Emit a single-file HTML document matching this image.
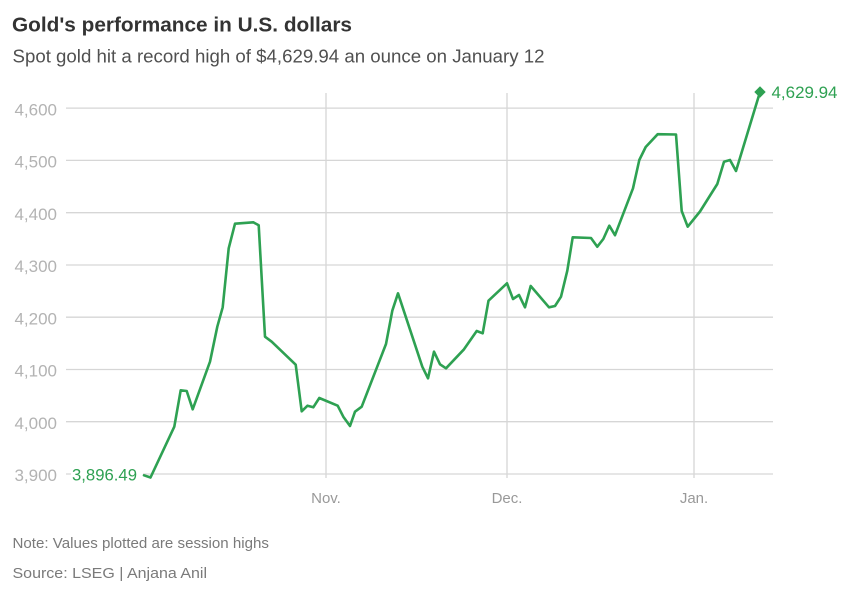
<!DOCTYPE html>
<html>
<head>
<meta charset="utf-8">
<style>
  html, body { margin: 0; padding: 0; background: #ffffff; }
  svg { display: block; }
  text { font-family: "Liberation Sans", Arial, sans-serif; }
</style>
</head>
<body>
<svg width="848" height="590" viewBox="0 0 848 590" xmlns="http://www.w3.org/2000/svg">
  <rect x="0" y="0" width="848" height="590" fill="#ffffff"/>

  <!-- Title / subtitle -->
  <text x="12" y="31.7" font-size="20" font-weight="bold" fill="#333333" textLength="340" lengthAdjust="spacingAndGlyphs">Gold's performance in U.S. dollars</text>
  <text x="12.5" y="62.7" font-size="18" fill="#505050" textLength="532" lengthAdjust="spacingAndGlyphs">Spot gold hit a record high of $4,629.94 an ounce on January 12</text>

  <!-- Horizontal gridlines -->
  <g stroke="#d6d6d6" stroke-width="1.3">
    <line x1="66" y1="108.1" x2="773" y2="108.1"/>
    <line x1="66" y1="160.4" x2="773" y2="160.4"/>
    <line x1="66" y1="212.7" x2="773" y2="212.7"/>
    <line x1="66" y1="265.0" x2="773" y2="265.0"/>
    <line x1="66" y1="317.2" x2="773" y2="317.2"/>
    <line x1="66" y1="369.5" x2="773" y2="369.5"/>
    <line x1="66" y1="421.7" x2="773" y2="421.7"/>
    <line x1="66" y1="474.0" x2="773" y2="474.0"/>
  </g>
  <!-- Vertical month lines -->
  <g stroke="#d6d6d6" stroke-width="1.3">
    <line x1="326" y1="93" x2="326" y2="478"/>
    <line x1="507" y1="93" x2="507" y2="478"/>
    <line x1="694" y1="93" x2="694" y2="478"/>
  </g>

  <!-- Y tick labels -->
  <g font-size="17" fill="#b3b3b3" text-anchor="end">
    <text x="57" y="115.3">4,600</text>
    <text x="57" y="167.6">4,500</text>
    <text x="57" y="219.9">4,400</text>
    <text x="57" y="272.2">4,300</text>
    <text x="57" y="324.4">4,200</text>
    <text x="57" y="376.7">4,100</text>
    <text x="57" y="428.9">4,000</text>
    <text x="57" y="481.2">3,900</text>
  </g>

  <!-- X labels -->
  <g font-size="15" fill="#999999" text-anchor="middle">
    <text x="326" y="503">Nov.</text>
    <text x="507" y="503">Dec.</text>
    <text x="694" y="503">Jan.</text>
  </g>

  <!-- Start label with white background -->
  <rect x="71" y="465" width="72" height="18" fill="#ffffff"/>
  <text x="72" y="480.5" font-size="17" fill="#2ea152" textLength="65" lengthAdjust="spacingAndGlyphs">3,896.49</text>

  <!-- Data line -->
  <polyline fill="none" stroke="#2ea152" stroke-width="2.6" stroke-linejoin="round" stroke-linecap="round"
    points="144,475.3 150.5,477.5 174.3,426.7 180.7,390.3 186.7,391 192.7,409.3 210,361.7 217.3,326.7 222.7,307.3 228.7,248.3 235,223.7 253.3,222.3 258.7,225.3 265,336.7 271.7,341.7 295.7,364.7 301.7,411.3 307.5,405.7 313.3,407.3 319.3,398 337.7,405.7 343.3,416.7 350,426 355,411.7 361.7,406.7 386,344 392.3,310.7 398,293.3 422.3,366.7 428,378.3 434,351.7 440,364.3 446,368.3 464,349.3 476.7,331 482.7,333.3 488.5,300.7 507,283.3 513,299 519,295 525,307.3 530.7,286 549,307.3 555,306 561,296.7 567.3,270.7 572.7,237.3 591,238 597.3,246.7 603.3,239 609.3,225.7 615,235.2 633,188.3 639.3,160 645.7,147 657.7,134.2 676,134.5 681.7,211 687.7,226.7 700,211.5 717.3,184 724,161.7 730,160 736,171 760,92"/>

  <!-- End marker and label -->
  <polygon points="760,86.3 765.7,92 760,97.7 754.3,92" fill="#2ea152"/>
  <text x="771.5" y="98.2" font-size="17" fill="#2ea152" textLength="66" lengthAdjust="spacingAndGlyphs">4,629.94</text>

  <!-- Footer -->
  <text x="12.5" y="548" font-size="15" fill="#7a7a7a" textLength="256.5" lengthAdjust="spacingAndGlyphs">Note: Values plotted are session highs</text>
  <text x="12.5" y="578" font-size="15" fill="#7a7a7a" textLength="194.5" lengthAdjust="spacingAndGlyphs">Source: LSEG | Anjana Anil</text>
</svg>
</body>
</html>
